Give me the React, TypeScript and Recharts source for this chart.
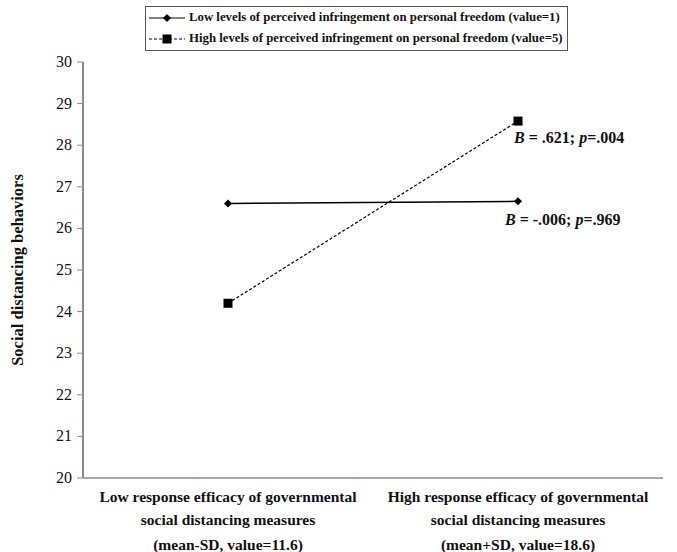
import { LineChart, Line, XAxis, YAxis, LabelList, Label } from "recharts";

const FONT = '"Liberation Serif", "Times New Roman", serif';
const AXIS = "#8a8a8a";
const INK = "#111";

// moderation plot: social distancing behaviors by response efficacy
const categories = ["Low response efficacy", "High response efficacy"];
const categoryLines = [
  ["Low response efficacy of governmental", "social distancing measures", "(mean-SD, value=11.6)"],
  ["High response efficacy of governmental", "social distancing measures", "(mean+SD, value=18.6)"],
];
const lowFreedom = [26.6, 26.65];
const highFreedom = [24.2, 28.58];
const yTicks = [20, 21, 22, 23, 24, 25, 26, 27, 28, 29, 30];
const seriesNames = [
  "Low levels of perceived infringement on personal freedom (value=1)",
  "High levels of perceived infringement on personal freedom (value=5)",
];
const lowSlope = ["-.006", ".969"];
const highSlope = [".621", ".004"];

const data = categories.map((c, i) => ({ category: c, low: lowFreedom[i], high: highFreedom[i] }));

const Diamond = (props: any) => {
  const { cx, cy } = props;
  if (cx == null || cy == null) return null;
  return <path d={`M${cx},${cy - 4}L${cx + 4},${cy}L${cx},${cy + 4}L${cx - 4},${cy}Z`} fill="#000" />;
};

const Square = (props: any) => {
  const { cx, cy } = props;
  if (cx == null || cy == null) return null;
  return <rect x={cx - 4.5} y={cy - 4.5} width={9} height={9} fill="#000" />;
};

function slopeLabel(note: string[], dx: number, dy: number) {
  return (props: any) => {
    const { x, y, index } = props;
    if (index !== categories.length - 1) return null;
    return (
      <text x={x + dx} y={y + dy} fontFamily={FONT} fontSize={16} fontWeight="bold" fill={INK}>
        <tspan fontStyle="italic">B</tspan>
        {` = ${note[0]}; `}
        <tspan fontStyle="italic">p</tspan>
        {`=${note[1]}`}
      </text>
    );
  };
}

const CategoryTick = (props: any) => {
  const { x, y, payload } = props;
  const lines = categoryLines[categories.indexOf(payload.value)] || [];
  return (
    <text x={x} textAnchor="middle" fontFamily={FONT} fontSize={15.5} fontWeight="bold" fill={INK}>
      <tspan x={x} y={y + 16}>{lines[0]}</tspan>
      <tspan x={x} y={y + 39}>{lines[1]}</tspan>
      <tspan x={x} y={y + 64}>{lines[2]}</tspan>
    </text>
  );
};

const ValueTick = (props: any) => {
  const { x, y, payload } = props;
  return (
    <text x={x} y={y} dy={5} textAnchor="end" fontFamily={FONT} fontSize={16} fill={INK}>
      {payload.value}
    </text>
  );
};

const LegendBox = () => (
  <div
    style={{
      position: "absolute",
      left: 145,
      top: 6,
      border: "1px solid #555",
      background: "#fff",
      padding: "0px 4px 1px 3px",
      fontFamily: FONT,
      fontWeight: "bold",
      fontSize: 12.8,
      color: INK,
      whiteSpace: "nowrap",
      zIndex: 1,
    }}
  >
    {seriesNames.map((name, i) => (
      <div key={name} style={{ display: "flex", alignItems: "center", height: 21 }}>
        <svg width={36} height={12} style={{ marginRight: 4 }}>
          <line x1={0} y1={6} x2={36} y2={6} stroke="#000" strokeWidth={1.2} strokeDasharray={i === 0 ? undefined : "3 2"} />
          {i === 0 ? (
            <path d="M18,2L22,6L18,10L14,6Z" fill="#000" />
          ) : (
            <rect x={13.5} y={1.5} width={9} height={9} fill="#000" />
          )}
        </svg>
        <span>{name}</span>
      </div>
    ))}
  </div>
);

export default function App() {
  return (
    <div style={{ position: "absolute", left: 0, top: 0, width: 677, height: 552, background: "#fff" }}>
      <LegendBox />
      <LineChart width={677} height={552} data={data} margin={{ top: 62, right: 14, bottom: 0, left: 0 }}>
        <XAxis
          xAxisId="marks"
          type="number"
          domain={[0, 2]}
          ticks={[0, 1, 2]}
          tick={false}
          tickSize={4}
          tickLine={{ stroke: AXIS }}
          axisLine={false}
          height={0}
        />
        <XAxis
          dataKey="category"
          scale="band"
          tick={<CategoryTick />}
          tickLine={false}
          axisLine={{ stroke: AXIS, strokeWidth: 1.5 }}
          height={74}
          interval={0}
        />
        <XAxis xAxisId="top" orientation="top" dataKey="category" height={0} tick={false} tickLine={false} axisLine={{ stroke: AXIS, strokeWidth: 1.5 }} />
        <YAxis
          domain={[20, 30]}
          ticks={yTicks}
          width={83}
          tickSize={6}
          tickMargin={5}
          interval={0}
          tickLine={{ stroke: AXIS }}
          axisLine={{ stroke: AXIS, strokeWidth: 2 }}
          tick={<ValueTick />}
        >
          <Label
            content={(p: any) => {
              const vb = p.viewBox || {};
              const cy = vb.y + vb.height / 2;
              return (
                <text
                  x={17}
                  y={cy}
                  transform={`rotate(-90, 17, ${cy})`}
                  textAnchor="middle"
                  dominantBaseline="central"
                  fontFamily={FONT}
                  fontSize={16.5}
                  fontWeight="bold"
                  fill={INK}
                >
                  Social distancing behaviors
                </text>
              );
            }}
          />
        </YAxis>
        <YAxis yAxisId="right" orientation="right" domain={[20, 30]} width={0} tick={false} tickLine={false} axisLine={{ stroke: AXIS, strokeWidth: 1.5 }} />
        <Line
          dataKey="low"
          name={seriesNames[0]}
          stroke="#000"
          strokeWidth={1.5}
          dot={<Diamond />}
          activeDot={false}
          isAnimationActive={false}
        >
          <LabelList dataKey="low" content={slopeLabel(lowSlope, -13, 24)} />
        </Line>
        <Line
          dataKey="high"
          name={seriesNames[1]}
          stroke="#000"
          strokeWidth={1.2}
          strokeDasharray="3 2"
          dot={<Square />}
          activeDot={false}
          isAnimationActive={false}
        >
          <LabelList dataKey="high" content={slopeLabel(highSlope, -4, 22)} />
        </Line>
      </LineChart>
    </div>
  );
}
